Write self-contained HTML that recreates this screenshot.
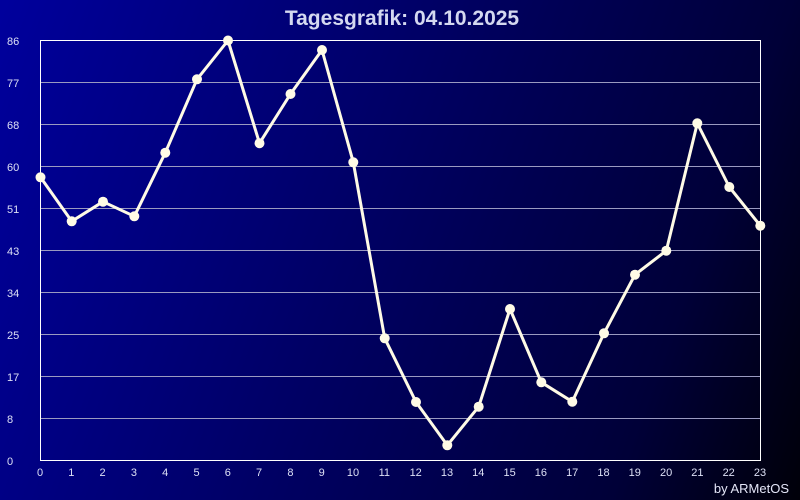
<!DOCTYPE html>
<html><head><meta charset="utf-8"><style>
html,body{margin:0;padding:0;}
body{width:800px;height:500px;overflow:hidden;}
svg{display:block;}
</style></head><body>
<svg width="800" height="500" viewBox="0 0 800 500" xmlns="http://www.w3.org/2000/svg" font-family="'Liberation Sans', Arial, sans-serif">
<defs>
<linearGradient id="bg" x1="0" y1="0" x2="800" y2="500" gradientUnits="userSpaceOnUse" gradientTransform="rotate(-12 400 250)">
<stop offset="0" stop-color="#00009e"/>
<stop offset="0.5" stop-color="#00005e"/>
<stop offset="0.8" stop-color="#000038"/>
<stop offset="1" stop-color="#000006"/>
</linearGradient>
</defs>
<rect width="800" height="500" fill="url(#bg)"/>
<text x="402" y="25" text-anchor="middle" font-size="21" font-weight="bold" fill="#d4d8f0">Tagesgrafik: 04.10.2025</text>
<g stroke="#9a9ac0" stroke-width="1">
<line x1="40" y1="82.5" x2="760" y2="82.5"/>
<line x1="40" y1="124.5" x2="760" y2="124.5"/>
<line x1="40" y1="166.5" x2="760" y2="166.5"/>
<line x1="40" y1="208.5" x2="760" y2="208.5"/>
<line x1="40" y1="250.5" x2="760" y2="250.5"/>
<line x1="40" y1="292.5" x2="760" y2="292.5"/>
<line x1="40" y1="334.5" x2="760" y2="334.5"/>
<line x1="40" y1="376.5" x2="760" y2="376.5"/>
<line x1="40" y1="418.5" x2="760" y2="418.5"/>
</g>
<rect x="40.5" y="40.5" width="720" height="420" fill="none" stroke="#ffffff" stroke-width="1"/>
<g font-size="11" fill="#dde0f5">
<text x="7" y="45">86</text>
<text x="7" y="87">77</text>
<text x="7" y="129">68</text>
<text x="7" y="171">60</text>
<text x="7" y="213">51</text>
<text x="7" y="255">43</text>
<text x="7" y="297">34</text>
<text x="7" y="339">25</text>
<text x="7" y="381">17</text>
<text x="7" y="423">8</text>
<text x="7" y="465">0</text>
</g>
<g font-size="11" fill="#dde0f5" text-anchor="middle">
<text x="40" y="476">0</text><text x="71.3" y="476">1</text><text x="102.6" y="476">2</text><text x="133.9" y="476">3</text><text x="165.2" y="476">4</text><text x="196.5" y="476">5</text><text x="227.8" y="476">6</text><text x="259.1" y="476">7</text><text x="290.4" y="476">8</text><text x="321.7" y="476">9</text><text x="353" y="476">10</text><text x="384.3" y="476">11</text><text x="415.7" y="476">12</text><text x="447" y="476">13</text><text x="478.3" y="476">14</text><text x="509.6" y="476">15</text><text x="540.9" y="476">16</text><text x="572.2" y="476">17</text><text x="603.5" y="476">18</text><text x="634.8" y="476">19</text><text x="666.1" y="476">20</text><text x="697.4" y="476">21</text><text x="728.7" y="476">22</text><text x="760" y="476">23</text>
</g>
<text x="789" y="493" text-anchor="end" font-size="13" fill="#e4e6f8">by ARMetOS</text>
<polyline fill="none" stroke="#fffbe6" stroke-width="3" stroke-linejoin="round" points="40.5,177.3 71.7,221.3 103,201.7 134.3,216.3 165.3,152.7 197,79.3 228,40.5 259.5,143.2 290.5,94 322,50 353.3,162.3 384.7,338.3 416,402 447.3,445.3 478.7,406.7 510,309 541.3,382.3 572.3,401.7 604,333.3 635,274.7 666.3,250.7 697.3,123.3 729.3,187 760.3,225.7"/>
<g fill="#fffbe6">
<circle cx="40.5" cy="177.3" r="5"/><circle cx="71.7" cy="221.3" r="5"/><circle cx="103" cy="201.7" r="5"/><circle cx="134.3" cy="216.3" r="5"/><circle cx="165.3" cy="152.7" r="5"/><circle cx="197" cy="79.3" r="5"/><circle cx="228" cy="40.5" r="5"/><circle cx="259.5" cy="143.2" r="5"/><circle cx="290.5" cy="94" r="5"/><circle cx="322" cy="50" r="5"/><circle cx="353.3" cy="162.3" r="5"/><circle cx="384.7" cy="338.3" r="5"/><circle cx="416" cy="402" r="5"/><circle cx="447.3" cy="445.3" r="5"/><circle cx="478.7" cy="406.7" r="5"/><circle cx="510" cy="309" r="5"/><circle cx="541.3" cy="382.3" r="5"/><circle cx="572.3" cy="401.7" r="5"/><circle cx="604" cy="333.3" r="5"/><circle cx="635" cy="274.7" r="5"/><circle cx="666.3" cy="250.7" r="5"/><circle cx="697.3" cy="123.3" r="5"/><circle cx="729.3" cy="187" r="5"/><circle cx="760.3" cy="225.7" r="5"/>
</g>
</svg>
</body></html>
